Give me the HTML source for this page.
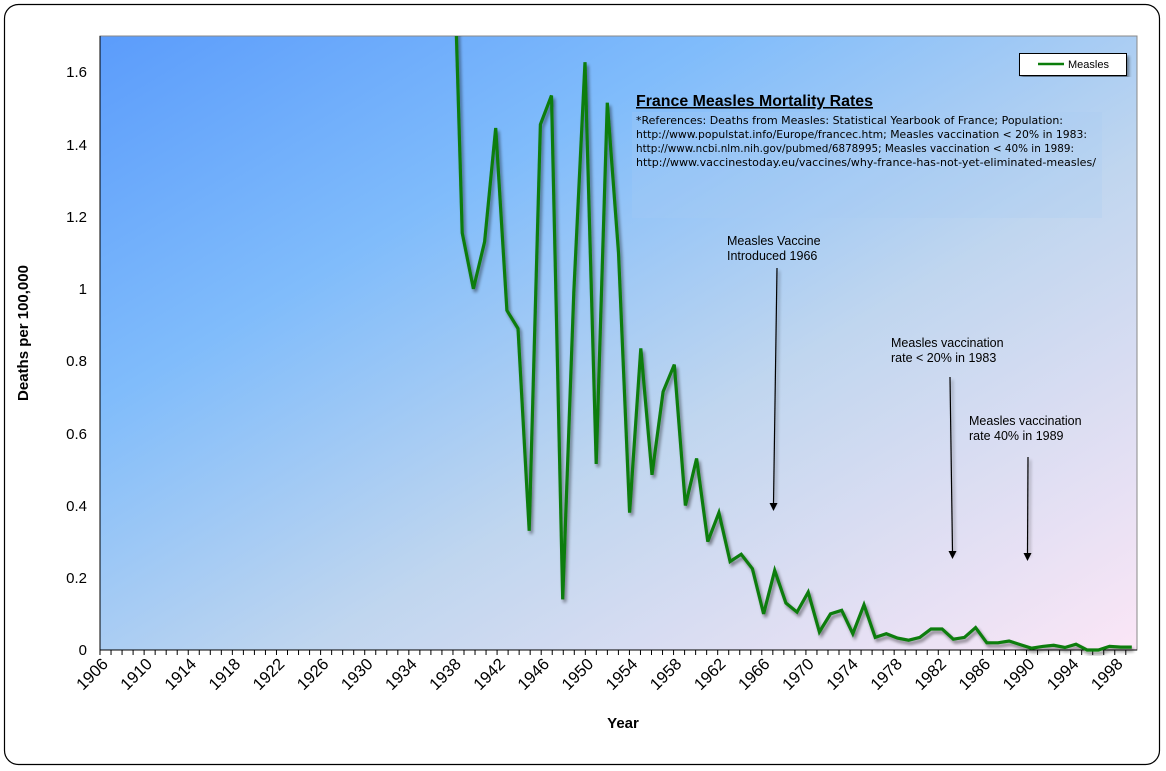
<!DOCTYPE html>
<html><head><meta charset="utf-8"><style>
html,body{margin:0;padding:0;background:#fff;}
svg{display:block;font-family:"Liberation Sans",Arial,sans-serif;}
</style></head><body>
<svg id="s" width="1166" height="771" viewBox="0 0 1166 771" xmlns="http://www.w3.org/2000/svg">
<defs>
<linearGradient id="bg" x1="0" y1="0" x2="1" y2="1">
<stop offset="0" stop-color="#5b9cfb"/>
<stop offset="0.3" stop-color="#80bcfb"/>
<stop offset="0.6" stop-color="#c0d6ef"/>
<stop offset="1" stop-color="#fbe6f6"/>
</linearGradient>
<filter id="sh" x="-5%" y="-5%" width="110%" height="110%">
<feGaussianBlur in="SourceAlpha" stdDeviation="1.5"/>
<feOffset dx="2" dy="3" result="b"/>
<feComponentTransfer><feFuncA type="linear" slope="0.45"/></feComponentTransfer>
<feMerge><feMergeNode/><feMergeNode in="SourceGraphic"/></feMerge>
</filter>
<clipPath id="cp"><rect x="100" y="36" width="1037" height="620"/></clipPath>
</defs>
<rect x="4.5" y="4.5" width="1155" height="760" rx="14" fill="#fff" stroke="#000" stroke-width="1.2"/>
<rect x="100" y="36" width="1037" height="614" fill="url(#bg)" stroke="#888" stroke-width="1"/>
<line x1="100" y1="36" x2="100" y2="650" stroke="#000"/>
<line x1="100" y1="650" x2="1137" y2="650" stroke="#000"/>
<g id="ticks" stroke="#000" stroke-width="1"></g>
<g id="labels" font-size="16.5" fill="#000"></g>
<g font-size="15" text-anchor="end" fill="#000">
<text x="87" y="77">1.6</text>
<text x="87" y="150">1.4</text>
<text x="87" y="222">1.2</text>
<text x="87" y="294">1</text>
<text x="87" y="366">0.8</text>
<text x="87" y="439">0.6</text>
<text x="87" y="511">0.4</text>
<text x="87" y="583">0.2</text>
<text x="87" y="655">0</text>
</g>
<text x="28" y="333" font-size="15" font-weight="bold" text-anchor="middle" transform="rotate(-90 28 333)">Deaths per 100,000</text>
<text x="623" y="728" font-size="15" font-weight="bold" text-anchor="middle">Year</text>
<g clip-path="url(#cp)"><polyline id="ln" fill="none" stroke="#0a7d0a" stroke-width="3.2" stroke-linejoin="miter" filter="url(#sh)"/></g>
<rect x="1019.5" y="53.5" width="107" height="22" fill="#fff" stroke="#000" filter="url(#sh)"/>
<line x1="1038" y1="64" x2="1064" y2="64" stroke="#0a7d0a" stroke-width="2.5"/>
<text x="1068" y="68" font-size="11">Measles</text>
<rect x="632" y="112" width="470" height="106" fill="#a8cdf5" opacity="0.25"/>
<text x="636" y="106" font-size="15.5" font-weight="bold" text-decoration="underline" textLength="237" lengthAdjust="spacingAndGlyphs">France Measles Mortality Rates</text>
<g font-family="'DejaVu Sans',Verdana,sans-serif" font-size="10.5" fill="#000">
<text x="636" y="124" textLength="427" lengthAdjust="spacingAndGlyphs">*References: Deaths from Measles: Statistical Yearbook of France; Population:</text>
<text x="636" y="138" textLength="451" lengthAdjust="spacingAndGlyphs">http://www.populstat.info/Europe/francec.htm; Measles vaccination &lt; 20% in 1983:</text>
<text x="636" y="152" textLength="438" lengthAdjust="spacingAndGlyphs">http://www.ncbi.nlm.nih.gov/pubmed/6878995; Measles vaccination &lt; 40% in 1989:</text>
<text x="636" y="166" textLength="460" lengthAdjust="spacingAndGlyphs">http://www.vaccinestoday.eu/vaccines/why-france-has-not-yet-eliminated-measles/</text>
</g>
<g font-size="12.5" fill="#000">
<text x="727" y="245">Measles Vaccine</text>
<text x="727" y="260">Introduced 1966</text>
<text x="891" y="347">Measles vaccination</text>
<text x="891" y="362">rate &lt; 20%  in 1983</text>
<text x="969" y="425">Measles vaccination</text>
<text x="969" y="440">rate 40% in 1989</text>
</g>
<g stroke="#000" stroke-width="1.2" filter="url(#sh)">
<line x1="777" y1="268" x2="773.5" y2="504"/>
<line x1="950" y1="377" x2="952.5" y2="552"/>
<line x1="1028" y1="457" x2="1027.5" y2="554"/>
</g>
<g fill="#000">
<polygon points="769.5,503 777.5,503 773.5,511"/>
<polygon points="948.5,551 956.5,551 952.5,559"/>
<polygon points="1023.5,553 1031.5,553 1027.5,561"/>
</g>
</svg>
<script>
var NS="http://www.w3.org/2000/svg";
var data={1938:2.2,1939:1.155,1940:1.0,1941:1.13,1942:1.445,1943:0.94,1944:0.89,1945:0.33,1946:1.455,1947:1.535,1948:0.14,1949:0.99,1950:1.627,1951:0.515,1952:1.515,1953:1.1,1954:0.38,1955:0.835,1956:0.485,1957:0.715,1958:0.79,1959:0.40,1960:0.53,1961:0.30,1962:0.38,1963:0.245,1964:0.265,1965:0.225,1966:0.10,1967:0.22,1968:0.13,1969:0.105,1970:0.16,1971:0.05,1972:0.10,1973:0.11,1974:0.045,1975:0.125,1976:0.035,1977:0.045,1978:0.033,1979:0.027,1980:0.035,1981:0.058,1982:0.058,1983:0.03,1984:0.035,1985:0.062,1986:0.02,1987:0.02,1988:0.025,1989:0.015,1990:0.005,1991:0.01,1992:0.013,1993:0.007,1994:0.016,1995:0,1996:0,1997:0.01,1998:0.008,1999:0.008};
var pts=[];
for(var y=1938;y<=1999;y++){pts.push((585+(y-1950)*11.16).toFixed(1)+","+(650-data[y]*361.25).toFixed(1));}
document.getElementById("ln").setAttribute("points",pts.join(" "));
var tg=document.getElementById("ticks"),lg=document.getElementById("labels");
for(var k=0;k<=93;k++){var x=100+k*11.03;var l=document.createElementNS(NS,"line");l.setAttribute("x1",x);l.setAttribute("x2",x);l.setAttribute("y1",650);l.setAttribute("y2",655);tg.appendChild(l);}
for(var yr=1906;yr<=1998;yr+=4){var x=100+(yr-1906)*11.03+9;var t=document.createElementNS(NS,"text");t.setAttribute("x",x);t.setAttribute("y",665);t.setAttribute("text-anchor","end");t.setAttribute("transform","rotate(-45 "+x+" 665)");t.textContent=yr;lg.appendChild(t);}
</script>
</body></html>
